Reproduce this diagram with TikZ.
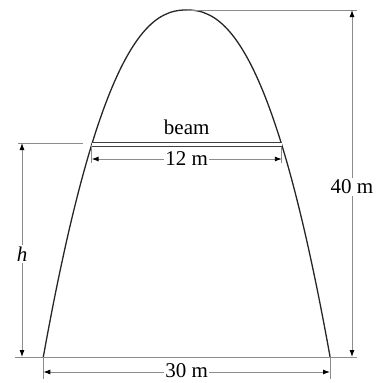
\documentclass[tikz,border=0pt]{standalone}
\usepackage{fontspec}
\setmainfont{Liberation Serif}
\usetikzlibrary{arrows.meta}

\begin{document}
\begin{tikzpicture}[
    x=1pt, y=-1pt,
    every node/.style={font=\fontsize{21}{25}\selectfont, inner sep=1.5pt, text=black},
    arch/.style={line width=1.3pt, black!85},
    guide/.style={line width=0.9pt, black!45},
    dim/.style={guide, {Latex[length=7pt,width=5pt,color=black]}-{Latex[length=7pt,width=5pt,color=black]}},
    gap/.style={fill=white}
]
    \useasboundingbox (0,0) rectangle (381,383);

    % Points
    \coordinate (top) at (186.7,10);
    \coordinate (baseL) at (43.3,357);
    \coordinate (baseR) at (330,357);
    \coordinate (beamL) at (91.6,144.7);
    \coordinate (beamR) at (281.8,144.7);

    % Arch
    \draw[arch] plot[domain=-143.4:143.4, samples=121] ({186.7+\x}, {10+347*pow(abs(\x)/143.4+0.0001,2.3)});

    % Extension lines
    \draw[guide] (15,357) -- (357,357);
    \draw[guide] (top) -- (357,10);
    \draw[guide] (18,143) -- (83,143);
    \draw[guide] (beamL) -- ++(0,18);
    \draw[guide] (beamR) -- ++(0,18);
    \draw[guide] (baseL) -- ++(0,22);
    \draw[guide] (baseR) -- ++(0,22);

    % Beam
    \draw[line width=1pt, double=white, double distance=3pt, black!75] (beamL) -- (beamR);
    \node (beam) at (186.7,127) {beam};

    % Dimensions
    \coordinate (twL) at (91.6,159);
    \coordinate (twR) at (281.8,159);
    \coordinate (thL) at (43.3,372);
    \coordinate (thR) at (330,372);
    \coordinate (foT) at (352,10);
    \coordinate (foB) at (352,357);
    \coordinate (hT) at (22,143);
    \coordinate (hB) at (22,357);

    \draw[dim] (twL) -- node[gap] (twelve) {12 m} (twR);
    \draw[dim] (thL) -- node[gap, yshift=1pt] (thirty) {30 m} (thR);
    \draw[dim] (foT) -- node[gap, pos=0.51] (forty) {40 m} (foB);
    \draw[dim] (hT) -- node[gap, pos=0.52] (height) {\itshape h} (hB);
\end{tikzpicture}
\end{document}
